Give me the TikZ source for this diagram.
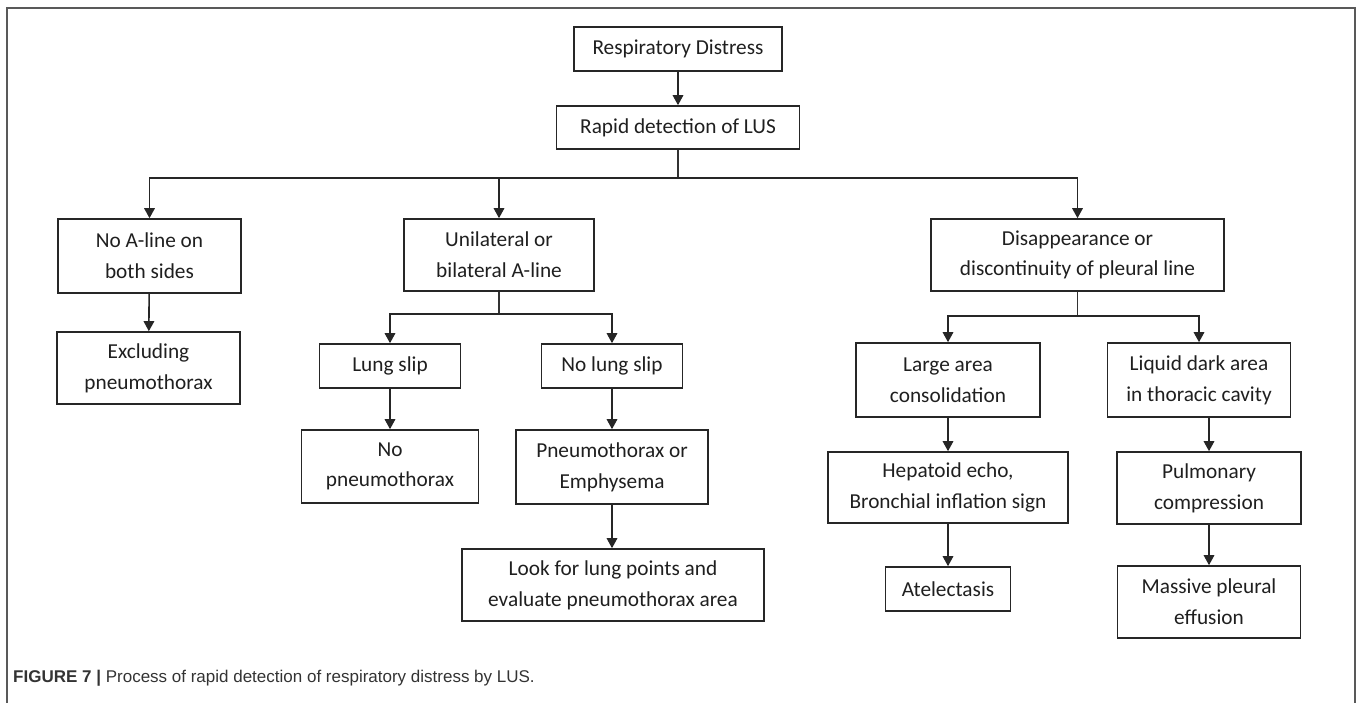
\documentclass[tikz,border=0pt]{standalone}
\usepackage{fontspec}
\setmainfont{Carlito}
\newfontfamily\capfont{Liberation Sans}
\usetikzlibrary{arrows.meta, calc}

\begin{document}
\begin{tikzpicture}[
        x=1pt, y=-1pt,
        box/.style={draw=black!85, line width=1.6pt, align=center, inner sep=0pt,
            font=\fontsize{21.3}{30.7}\selectfont, text=black!88},
        wh/.style 2 args={minimum width=#1pt, minimum height=#2pt},
        pile/.style={line width=1.6pt, draw=black!85, -{Triangle[length=10pt, width=10.5pt]}},
        plain line/.style={line width=1.6pt, draw=black!80},
        frame line/.style={line width=1.5pt, draw=black!65}
    ]
    \useasboundingbox (0,0) rectangle (1357,703);
    \draw[frame line] (7,703) -- (7,8) -- (1355,8) -- (1355,703);

    \node[box, wh={208}{44}] (rd) at (678,49) {Respiratory Distress};
    \node[box, wh={243}{43}] (lus) at (678,127.5) {Rapid detection of LUS};

    %% first row
    \node[box, wh={183}{74}] (noa) at (149.5,256) {No A-line on\\both sides};
    \node[box, wh={190}{72}] (uni) at (499,255) {Unilateral or\\bilateral A-line};
    \node[box, wh={293}{72}] (dis) at (1077.5,255) {Disappearance or\\discontinuity of pleural line};

    %% left branch
    \node[box, wh={183}{72}] (excl) at (148.5,368) {Excluding\\pneumothorax};

    %% middle branch
    \node[box, wh={141}{44}] (slip) at (390,366) {Lung slip};
    \node[box, wh={141}{44}] (noslip) at (612,366) {No lung slip};
    \node[box, wh={177}{73}] (nopneu) at (390,466.5) {No\\pneumothorax};
    \node[box, wh={192}{74}] (pneu) at (612,467) {Pneumothorax or\\Emphysema};
    \node[box, wh={302}{72}] (look) at (613,585) {Look for lung points and\\evaluate pneumothorax area};

    %% right branch
    \node[box, wh={184}{74}] (large) at (948,380) {Large area\\consolidation};
    \node[box, wh={183}{74}] (liquid) at (1199,380) {Liquid dark area\\in thoracic cavity};
    \node[box, wh={240}{71}] (hep) at (948,487.5) {Hepatoid echo,\\Bronchial inflation sign};
    \node[box, wh={125}{44}] (atel) at (948,589) {Atelectasis};
    \node[box, wh={184}{72}] (pulm) at (1209,488) {Pulmonary\\compression};
    \node[box, wh={183}{72}] (mass) at (1209,602) {Massive pleural\\effusion};

    \coordinate (b1) at (678,178);
    \coordinate (b2) at (499,314);
    \coordinate (b3) at (1077.5,316);

    \draw[pile] (rd) -- (lus);
    \draw[plain line] (lus) -- (b1);
    \draw[pile] (b1) -| (noa);
    \draw[pile] (b1) -| (uni);
    \draw[pile] (b1) -| (dis);

    \draw[pile] (noa) -- (excl);

    \draw[plain line] (uni) -- (b2);
    \draw[pile] (b2) -| (slip);
    \draw[pile] (b2) -| (noslip);
    \draw[pile] (slip) -- (nopneu);
    \draw[pile] (noslip) -- (pneu);
    \draw[pile] (pneu.south) -- (pneu.south |- look.north);

    \draw[plain line] (dis) -- (b3);
    \draw[pile] (b3) -| (large);
    \draw[pile] (b3) -| (liquid);
    \draw[pile] (large) -- (hep);
    \draw[pile] (hep) -- (atel);
    \draw[pile] (liquid.south -| pulm) -- (pulm);
    \draw[pile] (pulm) -- (mass);

    \node[anchor=base west, inner sep=0pt, text=black!80,
        font=\capfont\fontsize{17}{20}\selectfont] (cap) at (13,682)
        {\textbf{FIGURE 7 |} Process of rapid detection of respiratory distress by LUS.};
\end{tikzpicture}
\end{document}
